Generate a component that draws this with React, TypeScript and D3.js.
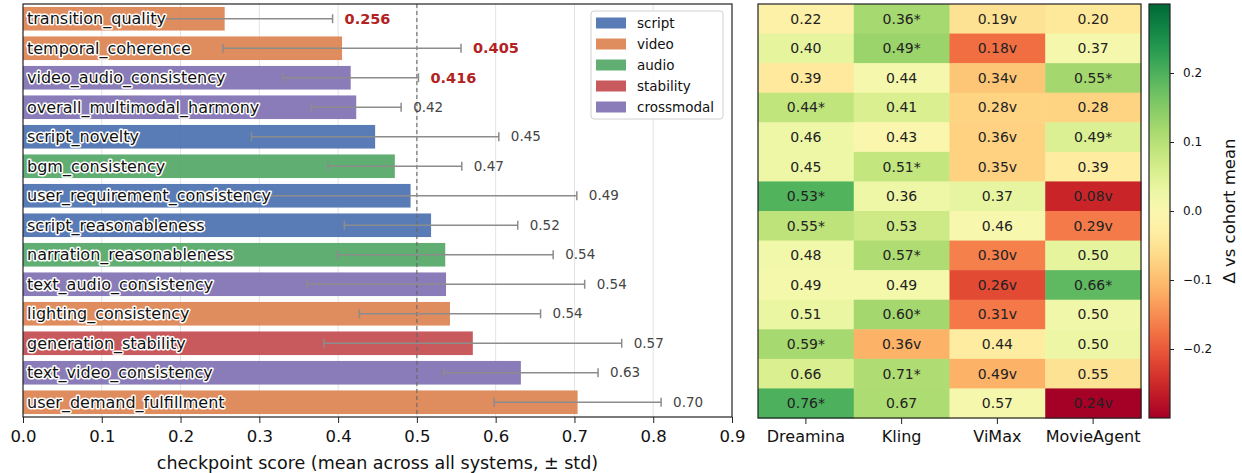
import { useEffect, useRef } from 'react';
import * as d3 from 'd3';

const metrics = [
  'transition_quality',
  'temporal_coherence',
  'video_audio_consistency',
  'overall_multimodal_harmony',
  'script_novelty',
  'bgm_consistency',
  'user_requirement_consistency',
  'script_reasonableness',
  'narration_reasonableness',
  'text_audio_consistency',
  'lighting_consistency',
  'generation_stability',
  'text_video_consistency',
  'user_demand_fulfillment'
];
const metricGroups = [
  'video', 'video', 'crossmodal', 'crossmodal', 'script', 'audio', 'script',
  'script', 'audio', 'crossmodal', 'video', 'stability', 'crossmodal', 'video'
];
const means = [0.256, 0.405, 0.416, 0.423, 0.447, 0.472, 0.492, 0.518, 0.536, 0.537, 0.542, 0.571, 0.632, 0.704];
const stds = [0.137, 0.151, 0.086, 0.057, 0.157, 0.085, 0.211, 0.11, 0.137, 0.176, 0.115, 0.189, 0.098, 0.106];

const groups = ['script', 'video', 'audio', 'stability', 'crossmodal'];
const groupColors = ['#4c72b0', '#dd8452', '#55a868', '#c44e52', '#8172b3'];

const xTicks = [0, 0.1, 0.2, 0.3, 0.4, 0.5, 0.6, 0.7, 0.8, 0.9];

const systems = ['Dreamina', 'Kling', 'ViMax', 'MovieAgent'];
const dreamina = [0.22, 0.4, 0.39, 0.44, 0.46, 0.45, 0.53, 0.55, 0.48, 0.49, 0.51, 0.59, 0.66, 0.76];
const kling = [0.36, 0.49, 0.44, 0.41, 0.43, 0.51, 0.36, 0.53, 0.57, 0.49, 0.6, 0.36, 0.71, 0.67];
const vimax = [0.19, 0.18, 0.34, 0.28, 0.36, 0.35, 0.37, 0.46, 0.3, 0.26, 0.31, 0.44, 0.49, 0.57];
const movieAgent = [0.2, 0.37, 0.55, 0.28, 0.49, 0.39, 0.08, 0.29, 0.5, 0.66, 0.5, 0.5, 0.55, 0.24];
const dreaminaMarks = ['', '', '', '*', '', '', '*', '*', '', '', '', '*', '', '*'];
const klingMarks = ['*', '*', '', '', '', '*', '', '', '*', '', '*', 'v', '*', ''];
const vimaxMarks = ['v', 'v', 'v', 'v', 'v', 'v', '', '', 'v', 'v', 'v', '', 'v', ''];
const movieAgentMarks = ['', '', '*', '', '*', '', 'v', 'v', '', '*', '', '', '', 'v'];

const cbTicks = [-0.2, -0.1, 0, 0.1, 0.2];

const FONT = 'DejaVu Sans, sans-serif';

export default function App() {
  const ref = useRef<SVGSVGElement | null>(null);

  useEffect(() => {
    if (!ref.current) return;
    const svg = d3.select(ref.current);
    svg.selectAll('*').remove();

    // ---------- left: bar chart ----------
    const left = { x0: 23, x1: 732, y0: 4, y1: 417 };
    const x = d3.scaleLinear().domain([0, 0.9]).range([left.x0, left.x1]);
    const y = d3.scaleBand<string>().domain(metrics).range([left.y0, left.y1]).paddingInner(0.2).paddingOuter(0.1);
    const color = d3.scaleOrdinal<string, string>().domain(groups).range(groupColors);

    const g = svg.append('g');

    // grid
    g.selectAll('.grid')
      .data(xTicks.slice(1, -1))
      .enter()
      .append('line')
      .attr('x1', (d) => x(d))
      .attr('x2', (d) => x(d))
      .attr('y1', left.y0)
      .attr('y2', left.y1)
      .attr('stroke', '#e3e3e3')
      .attr('stroke-width', 1);

    // bars
    g.selectAll('.bar')
      .data(metrics)
      .enter()
      .append('rect')
      .attr('x', x(0))
      .attr('y', (d) => y(d) as number)
      .attr('width', (_, i) => x(means[i]) - x(0))
      .attr('height', y.bandwidth())
      .attr('fill', (_, i) => color(metricGroups[i]))
      .attr('fill-opacity', 0.93);

    // reference line
    g.append('line')
      .attr('x1', x(0.5))
      .attr('x2', x(0.5))
      .attr('y1', left.y0)
      .attr('y2', left.y1)
      .attr('stroke', '#666')
      .attr('stroke-width', 1.1)
      .attr('stroke-dasharray', '4,3');

    // error bars
    const cy = (i: number) => (y(metrics[i]) as number) + y.bandwidth() / 2;
    const err = g.selectAll('.err').data(metrics).enter().append('g');
    err
      .append('line')
      .attr('x1', (_, i) => x(means[i] - stds[i]))
      .attr('x2', (_, i) => x(means[i] + stds[i]))
      .attr('y1', (_, i) => cy(i))
      .attr('y2', (_, i) => cy(i))
      .attr('stroke', '#8c8c8c')
      .attr('stroke-width', 1.5);
    [-1, 1].forEach((s) => {
      err
        .append('line')
        .attr('x1', (_, i) => x(means[i] + s * stds[i]))
        .attr('x2', (_, i) => x(means[i] + s * stds[i]))
        .attr('y1', (_, i) => cy(i) - 4.5)
        .attr('y2', (_, i) => cy(i) + 4.5)
        .attr('stroke', '#8c8c8c')
        .attr('stroke-width', 1.5);
    });

    // metric names on bars
    g.selectAll('.name')
      .data(metrics)
      .enter()
      .append('text')
      .attr('x', x(0) + 4)
      .attr('y', (_, i) => cy(i))
      .attr('dy', '0.35em')
      .attr('font-family', FONT)
      .attr('font-size', 16)
      .attr('fill', '#111')
      .attr('stroke', '#fff')
      .attr('stroke-width', 3)
      .attr('stroke-linejoin', 'round')
      .attr('paint-order', 'stroke')
      .text((d) => d);

    // value labels
    g.selectAll('.val')
      .data(metrics)
      .enter()
      .append('text')
      .attr('x', (_, i) => x(means[i] + stds[i]) + 12)
      .attr('y', (_, i) => cy(i))
      .attr('dy', '0.35em')
      .attr('font-family', FONT)
      .attr('font-size', (_, i) => (i < 3 ? 14.5 : 13.5))
      .attr('font-weight', (_, i) => (i < 3 ? 'bold' : 'normal'))
      .attr('fill', (_, i) => (i < 3 ? '#b22222' : '#444'))
      .text((_, i) => (i < 3 ? means[i].toFixed(3) : means[i].toFixed(2)));

    // frame
    g.append('rect')
      .attr('x', left.x0)
      .attr('y', left.y0)
      .attr('width', left.x1 - left.x0)
      .attr('height', left.y1 - left.y0)
      .attr('fill', 'none')
      .attr('stroke', '#222')
      .attr('stroke-width', 1.2);

    // x axis
    const xAxis = g
      .append('g')
      .attr('transform', `translate(0, ${left.y1})`)
      .call(d3.axisBottom(x).tickValues(xTicks).tickFormat(d3.format('.1f')).tickSize(6).tickPadding(7));
    xAxis.select('.domain').remove();
    xAxis.selectAll('line').attr('stroke', '#222');
    xAxis.selectAll('text').attr('font-family', FONT).attr('font-size', 16.5).attr('fill', '#111');

    g.append('text')
      .attr('x', (left.x0 + left.x1) / 2)
      .attr('y', 469)
      .attr('text-anchor', 'middle')
      .attr('font-family', FONT)
      .attr('font-size', 17.5)
      .attr('fill', '#111')
      .text('checkpoint score (mean across all systems, ± std)');

    // legend
    const lg = g.append('g').attr('transform', 'translate(591, 11)');
    lg.append('rect')
      .attr('width', 132)
      .attr('height', 108)
      .attr('rx', 3)
      .attr('fill', '#fff')
      .attr('fill-opacity', 0.85)
      .attr('stroke', '#d0d0d0');
    const li = lg
      .selectAll('.li')
      .data(groups)
      .enter()
      .append('g')
      .attr('transform', (_, i) => `translate(5, ${12 + i * 21})`);
    li.append('rect')
      .attr('width', 30)
      .attr('height', 11)
      .attr('y', -5.5)
      .attr('fill', (d) => color(d))
      .attr('fill-opacity', 0.93);
    li.append('text')
      .attr('x', 41)
      .attr('dy', '0.35em')
      .attr('font-family', FONT)
      .attr('font-size', 13.5)
      .attr('fill', '#111')
      .text((d) => d);

    // ---------- right: heatmap ----------
    const hm = { x0: 758, x1: 1141, y0: 4, y1: 418 };
    const hx = d3.scaleBand<string>().domain(systems).range([hm.x0, hm.x1]);
    const hy = d3.scaleBand<string>().domain(metrics).range([hm.y0, hm.y1]);
    const cols = [dreamina, kling, vimax, movieAgent];
    const marks = [dreaminaMarks, klingMarks, vimaxMarks, movieAgentMarks];
    const rowMean = metrics.map((_, r) => d3.mean(cols, (c) => c[r]) as number);
    const cmap = d3.scaleSequential(d3.interpolateRdYlGn).domain([-0.3, 0.3]).clamp(true);

    const cells = systems.flatMap((s, c) =>
      metrics.map((m, r) => ({ s, m, v: cols[c][r], mark: marks[c][r], delta: cols[c][r] - rowMean[r] }))
    );

    const h = svg.append('g');
    h.selectAll('.cell')
      .data(cells)
      .enter()
      .append('rect')
      .attr('x', (d) => hx(d.s) as number)
      .attr('y', (d) => hy(d.m) as number)
      .attr('width', hx.bandwidth() + 0.5)
      .attr('height', hy.bandwidth() + 0.5)
      .attr('fill', (d) => cmap(d.delta));
    h.selectAll('.ctext')
      .data(cells)
      .enter()
      .append('text')
      .attr('x', (d) => (hx(d.s) as number) + hx.bandwidth() / 2)
      .attr('y', (d) => (hy(d.m) as number) + hy.bandwidth() / 2)
      .attr('dy', '0.35em')
      .attr('text-anchor', 'middle')
      .attr('font-family', FONT)
      .attr('font-size', 14)
      .attr('fill', '#222')
      .text((d) => d.v.toFixed(2) + d.mark);
    h.append('rect')
      .attr('x', hm.x0)
      .attr('y', hm.y0)
      .attr('width', hm.x1 - hm.x0)
      .attr('height', hm.y1 - hm.y0)
      .attr('fill', 'none')
      .attr('stroke', '#222')
      .attr('stroke-width', 1.2);
    const hAxis = h
      .append('g')
      .attr('transform', `translate(0, ${hm.y1})`)
      .call(d3.axisBottom(hx).tickSize(6).tickPadding(7));
    hAxis.select('.domain').remove();
    hAxis.selectAll('line').attr('stroke', '#222');
    hAxis.selectAll('text').attr('font-family', FONT).attr('font-size', 16).attr('fill', '#111');

    // colorbar
    const cb = { x0: 1149, x1: 1170, y0: 4, y1: 418 };
    const cbY = d3.scaleLinear().domain([-0.3, 0.3]).range([cb.y1, cb.y0]);
    const defs = svg.append('defs');
    const grad = defs
      .append('linearGradient')
      .attr('id', 'cb-grad')
      .attr('x1', '0%')
      .attr('y1', '100%')
      .attr('x2', '0%')
      .attr('y2', '0%');
    d3.range(0, 1.0001, 0.05).forEach((t) => {
      grad.append('stop').attr('offset', `${t * 100}%`).attr('stop-color', d3.interpolateRdYlGn(t));
    });
    h.append('rect')
      .attr('x', cb.x0)
      .attr('y', cb.y0)
      .attr('width', cb.x1 - cb.x0)
      .attr('height', cb.y1 - cb.y0)
      .attr('fill', 'url(#cb-grad)')
      .attr('stroke', '#222')
      .attr('stroke-width', 1.2);
    const cbAxis = h
      .append('g')
      .attr('transform', `translate(${cb.x1}, 0)`)
      .call(
        d3
          .axisRight(cbY)
          .tickValues(cbTicks)
          .tickSize(4)
          .tickPadding(9)
          .tickFormat((d) => d3.format('.1f')(d as number).replace('-', '−'))
      );
    cbAxis.select('.domain').remove();
    cbAxis.selectAll('line').attr('stroke', '#222');
    cbAxis.selectAll('text').attr('font-family', FONT).attr('font-size', 12).attr('fill', '#111');

    h.append('text')
      .attr('transform', `translate(1229, ${(cb.y0 + cb.y1) / 2}) rotate(-90)`)
      .attr('text-anchor', 'middle')
      .attr('dy', '0.35em')
      .attr('font-family', FONT)
      .attr('font-size', 16.5)
      .attr('fill', '#111')
      .text('Δ vs cohort mean');
  }, []);

  return (
    <svg
      ref={ref}
      width={1242}
      height={473}
      style={{ position: 'absolute', left: 0, top: 0, background: '#fff' }}
    />
  );
}
